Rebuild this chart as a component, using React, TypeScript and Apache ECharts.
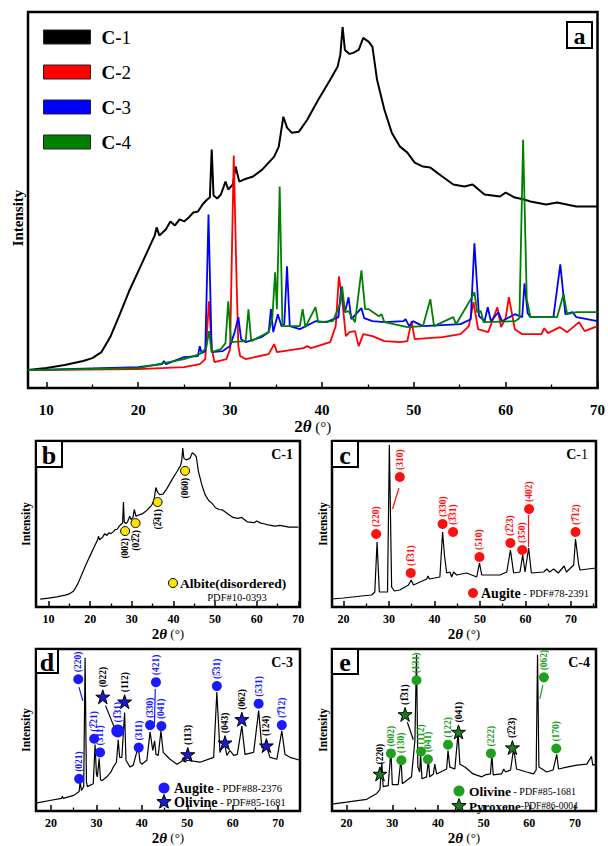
import React, { useEffect, useRef } from 'react';
import * as echarts from 'echarts';

const FONT = "'Liberation Serif', 'Times New Roman', 'DejaVu Serif', serif";

// ---------- Panel a: XRD patterns (2θ, intensity a.u.) ----------
const c1Pattern = [[8,18],[10,20],[12,23],[14,27],[15,30],[16,36],[17,52],[18,74],[19,97],[20,117],[21,137],[21.8,153],[22.0,161],[22.3,153],[23,159],[23.5,167],[24,163],[24.5,169],[25,167],[25.5,171],[26,176],[26.5,177],[27,184],[27.5,189],[27.8,191],[28.0,239],[28.2,193],[28.6,190],[29.0,194],[29.5,207],[29.8,199],[30.3,204],[30.6,222],[31.0,207],[31.5,209],[32.5,212],[33.5,219],[34.2,226],[34.8,232],[35.3,242],[35.8,272],[36.2,261],[36.7,256],[37.5,257],[38.4,269],[39.6,289],[40.9,309],[41.7,322],[42.0,334],[42.25,362],[42.5,339],[43.0,335],[43.4,336],[44.0,339],[44.5,351],[45.1,347],[45.5,342],[46.0,309],[46.8,279],[47.6,256],[48.5,242],[49.3,236],[50.1,226],[51.0,222],[51.8,221],[53.1,212],[54.3,204],[55.5,202],[56.4,204],[57.7,194],[59.4,192],[60.0,196],[61.0,191],[62.0,189],[62.7,187],[64.4,184],[65.6,186],[67.7,182],[70,182]];
const c2Pattern = [[8,18],[20,19],[25,21],[26.7,24],[27.3,29],[27.7,87],[28.0,40],[28.3,26],[29.6,29],[30.0,39],[30.4,233],[30.7,110],[30.9,42],[31.1,32],[31.7,29],[34.2,34],[34.8,44],[35.1,36],[38.0,40],[38.4,42],[38.8,40],[40.9,46],[41.5,62],[41.85,112],[42.2,89],[42.6,52],[43.0,56],[43.6,57],[44.0,42],[44.5,54],[45.5,52],[46.8,47],[48.5,46],[49.3,47],[49.75,67],[50.1,49],[53.1,51],[55.1,54],[56.0,62],[56.5,86],[57.0,59],[58.1,56],[59.1,81],[59.5,61],[60.0,70],[60.35,91],[61.0,59],[61.8,54],[63.9,54],[64.2,60],[64.6,55],[65.9,61],[66.7,56],[68.0,66],[68.6,57],[70,62]];
const c3Pattern = [[8,18],[20,21],[22.6,24],[22.8,27],[23.0,24],[25,31],[26.5,32],[26.7,42],[26.9,35],[27.3,37],[27.65,174],[28.0,36],[29.2,37],[30.0,42],[30.5,56],[30.9,71],[31.2,49],[31.7,46],[33.4,51],[34.2,56],[34.45,79],[34.7,56],[35.2,74],[35.6,62],[35.9,64],[36.2,122],[36.5,62],[37.6,59],[39.3,67],[40.5,66],[41.8,71],[42.1,101],[42.5,76],[42.9,91],[43.2,69],[44.3,80],[44.6,70],[45.5,67],[46.8,66],[48.9,67],[49.1,69],[49.5,62],[49.9,67],[51,62],[55.1,64],[56.2,69],[56.6,145],[57.1,72],[57.7,67],[58.05,81],[58.4,67],[59.2,76],[59.6,67],[61.0,74],[61.8,71],[62.05,105],[62.4,75],[62.7,71],[65.2,71],[65.95,124],[66.5,74],[67.3,76],[67.7,71],[70,67]];
const c4Pattern = [[8,18],[20,20],[25,29],[26.7,34],[27.4,40],[27.7,57],[28.0,36],[29.0,39],[29.5,45],[29.8,87],[30.1,46],[31.7,47],[32.0,79],[32.3,47],[34.2,56],[34.6,70],[34.9,116],[35.1,79],[35.4,202],[35.7,62],[36.7,62],[37.6,62],[37.9,79],[38.2,61],[39.3,81],[39.6,66],[41.2,67],[42.0,85],[42.2,102],[42.5,76],[42.9,77],[43.6,66],[44.3,118],[44.7,79],[45.1,79],[46.2,72],[46.5,74],[46.8,66],[49.3,61],[51.0,62],[51.8,89],[52.2,62],[54.3,71],[54.6,64],[56.2,89],[56.6,96],[56.9,76],[57.3,77],[57.6,66],[61.0,67],[61.5,70],[61.9,249],[62.3,89],[62.7,71],[65.6,71],[66.3,94],[66.7,74],[67.7,76],[69.4,76],[70,76]];

// ---------- Panel c / d / e patterns ----------
const cPattern = [[17.5,8],[20,9],[24,11],[26.2,12],[26.9,15],[27.4,65],[27.9,15],[29.7,15],[30.1,162],[30.6,20],[31.2,16],[32.4,17],[34.3,22],[34.9,27],[35.4,22],[38.3,28],[38.6,31],[38.9,28],[41.2,30],[41.8,75],[42.2,52],[42.7,34],[43.4,35],[43.8,30],[44.2,35],[44.9,32],[47.1,34],[49.3,30],[49.9,44],[50.4,32],[54.4,32],[55.9,35],[56.7,57],[57.4,34],[58.8,35],[59.4,52],[59.9,35],[60.7,59],[61.3,34],[64.0,35],[64.7,38],[65.3,35],[66.2,38],[67.2,34],[68.5,41],[69.0,35],[70.6,42],[71.0,68],[71.7,42],[72.0,37],[75.5,39]];
const dPattern = [[16.7,8],[20,11],[22.3,13],[22.5,15],[22.7,13],[25,16],[26.2,20],[26.4,30],[26.7,21],[27.2,25],[27.5,157],[27.8,30],[28.0,25],[29.3,28],[29.7,68],[30.0,38],[30.2,35],[30.6,54],[30.9,32],[31.2,31],[32.3,35],[33.2,40],[33.7,45],[34.4,50],[34.8,73],[35.1,55],[35.6,55],[36.2,101],[36.5,52],[37.4,45],[38.1,47],[39.2,66],[39.6,50],[40.0,48],[41.1,52],[41.8,81],[42.4,62],[42.8,72],[43.1,58],[43.6,57],[44.2,82],[44.7,60],[46.2,53],[47.7,48],[48.8,51],[49.1,55],[49.5,50],[49.9,52],[52.8,50],[55.8,55],[56.5,122],[57.2,60],[58.1,72],[58.7,57],[59.4,62],[60.2,57],[61.0,58],[62.0,87],[62.7,58],[64.6,60],[65.7,103],[66.4,65],[67.5,65],[68.2,55],[69.7,53],[70.8,82],[71.5,58],[72.6,55],[74.8,52]];
const ePattern = [[16.8,7],[20,9],[24.4,12],[26.6,18],[27.3,22],[27.7,50],[28.0,25],[29.1,26],[29.7,62],[30.0,27],[31.3,27],[31.9,54],[32.2,28],[34.2,35],[34.95,72],[35.3,160],[35.6,45],[36.0,40],[36.2,58],[36.5,33],[37.5,35],[37.9,52],[38.2,35],[39.0,38],[39.3,48],[39.7,38],[41.9,43],[42.2,62],[42.6,45],[43.7,43],[44.4,80],[44.8,48],[45.9,45],[47.7,38],[49.6,35],[50.3,37],[51.5,38],[51.8,58],[52.1,37],[53.9,38],[54.4,43],[54.8,40],[55.9,42],[56.5,62],[56.8,57],[57.2,43],[59.4,40],[60.9,38],[61.5,42],[61.8,160],[62.1,45],[63.8,40],[65.2,42],[66.0,58],[66.4,43],[68.2,45],[70.4,47],[72.6,48],[73.6,56],[73.9,47],[74.6,48]];

// ---------- Phase markers ----------
const B = '\u0305';
const bHkl = ['(002)', `(02${B}2)`, `(2${B}41)`, '(060)'];
const bPos = [[28.4,173],[30.9,191],[36.2,239],[42.8,310]];

const cHkl = ['(220)', '(310)', `(1${B}31)`, '(330)', `(3${B}31)`, '(510)', `(2${B}23)`, '(350)', '(402)', `(7${B}12)`];
const cPos = [[27.2,73],[32.4,130],[34.8,34],[41.8,83],[44.1,75],[49.9,50],[56.7,64],[59.3,57],[60.8,98],[71.0,75]];
const cArrows = [[[30.8,98],[32.2,119]],[[60.7,60],[60.7,92]]];

const dAugHkl = ['(021)', '(220)', `(2${B}21)`, `(3${B}11)`, `(1${B}31)`, '(311)', '(330)', '(421)', '(041)', `(5${B}31)`, '(531)', `(7${B}12)`];
const dAugPos = [[26.2,33],[26.0,135],[29.5,74],[30.8,60],[34.7,82],[39.3,65],[41.8,88],[43.1,132],[44.3,87],[56.5,128],[65.7,110],[70.8,88]];
const dAugArrows = [[[27.0,113],[26.15,127]],[[42.75,86],[42.95,125]]];
const dOlHkl = ['(022)', '(112)', '(113)', '(043)', '(062)', '(124)'];
const dOlPos = [[31.4,117],[36.2,112],[50.1,58],[58.3,70],[62.0,94],[67.4,67]];
const dOlArrows = [[[34.6,78],[32.0,108]]];

const eOlHkl = ['(002)', '(130)', '(131)', '(112)', '(041)', '(122)', '(222)', '(062)', '(170)'];
const eOlPos = [[29.7,59],[32.0,52],[35.3,134],[36.3,61],[37.8,53],[42.2,68],[51.6,59],[63.2,137],[65.9,64]];
const eOlArrows = [[[62.3,115],[62.95,129]]];
const ePyHkl = ['(220)', `(1${B}31)`, '(041)', `(2${B}23)`];
const ePyPos = [[27.3,38],[32.8,99],[44.5,81],[56.3,65]];
const ePyArrows = [[[34.6,73],[33.3,91]]];

// ---------- Axis ticks ----------
const ticksWide = [10, 20, 30, 40, 50, 60, 70];
const minorWide = [15, 25, 35, 45, 55, 65];
const ticksNarrow = [20, 30, 40, 50, 60, 70];
const minorNarrow = [25, 35, 45, 55, 65];
const minorNarrowC = [25, 35, 45, 55, 65, 75];

const STAR = 'path://M50 0 L61.8 35.4 L99 35.4 L69 57.3 L80.4 92.7 L50 70.8 L19.6 92.7 L31 57.3 L1 35.4 L38.2 35.4 Z';

function starPoints(cx: number, cy: number, r: number) {
  const pts: number[][] = [];
  for (let k = 0; k < 10; k++) {
    const a = -Math.PI / 2 + (k * Math.PI) / 5;
    const rr = k % 2 === 0 ? r : r * 0.42;
    pts.push([cx + rr * Math.cos(a), cy + rr * Math.sin(a)]);
  }
  return pts;
}

function majorX(gi: number, min: number, max: number, ticks: number[], fs: number, margin: number, nameGap: number, ns: number) {
  return {
    type: 'value', gridIndex: gi, min, max, position: 'bottom',
    axisLine: { show: false }, splitLine: { show: false },
    axisTick: { show: true, inside: true, length: 6, lineStyle: { color: '#000', width: 1.5 }, customValues: ticks },
    axisLabel: { show: true, customValues: ticks, margin, fontFamily: FONT, fontWeight: 'bold', fontSize: fs, color: '#000' },
    name: '{b|2}{i|θ}{n| (°)}', nameLocation: 'middle', nameGap,
    nameTextStyle: {
      color: '#000',
      rich: {
        b: { fontFamily: FONT, fontWeight: 'bold', fontSize: ns, color: '#000' },
        i: { fontFamily: FONT, fontStyle: 'italic', fontWeight: 'bold', fontSize: ns, color: '#000' },
        n: { fontFamily: FONT, fontSize: ns - 2, color: '#000' },
      },
    },
  };
}
function minorX(gi: number, min: number, max: number, ticks: number[]) {
  return {
    type: 'value', gridIndex: gi, min, max, position: 'bottom',
    axisLine: { show: false }, splitLine: { show: false }, axisLabel: { show: false },
    axisTick: { show: true, inside: true, length: 3.5, lineStyle: { color: '#000', width: 1.3 }, customValues: ticks },
  };
}
function yAx(gi: number, max: number, fs: number, gap: number, pad: number[]) {
  return {
    type: 'value', gridIndex: gi, min: 0, max,
    axisLine: { show: false }, axisTick: { show: false }, axisLabel: { show: false }, splitLine: { show: false },
    name: 'Intensity', nameLocation: 'middle', nameGap: gap,
    nameTextStyle: { fontFamily: FONT, fontWeight: 'bold', fontSize: fs, color: '#000', padding: pad },
  };
}
function lineS(name: string, data: number[][], idx: number, color: string, width: number) {
  return {
    type: 'line', name, xAxisIndex: idx, yAxisIndex: idx, data, showSymbol: false, symbol: 'none',
    lineStyle: { color, width }, itemStyle: { color }, silent: true,
  };
}
function markS(name: string, idx: number, pos: number[][], hkl: string[], symbol: string, size: any,
  fill: string, border: string, labelColor: string, below: boolean, arrows: number[][][], arrowColor: string) {
  return {
    type: 'scatter', name, xAxisIndex: idx, yAxisIndex: idx, symbol, symbolSize: size, z: 5, silent: true,
    itemStyle: { color: fill, borderColor: border, borderWidth: border === 'none' ? 0 : 1, opacity: 1 },
    data: pos.map((p, i) => ({ value: p, name: hkl[i] })),
    label: {
      show: true, formatter: (p: any) => p.name, position: below ? 'bottom' : 'top', distance: 2,
      rotate: 90, align: below ? 'right' : 'left', verticalAlign: 'middle',
      fontFamily: FONT, fontWeight: 'bold', fontSize: 9.5, color: labelColor,
    },
    markLine: arrows.length ? {
      silent: true, symbol: ['none', 'arrow'], symbolSize: [0, 7], animation: false,
      lineStyle: { color: arrowColor, width: 1.2, type: 'solid' }, label: { show: false },
      data: arrows.map((a) => [{ coord: a[0] }, { coord: a[1] }]),
    } : undefined,
  };
}

function letterBox(x: number, y: number, w: number, h: number, t: string, fs: number) {
  return {
    type: 'group', z: 100,
    children: [
      { type: 'rect', shape: { x, y, width: w, height: h }, style: { fill: '#fff', stroke: '#000', lineWidth: 2 } },
      { type: 'text', x: x + w / 2, y: y + h / 2 + 1, style: { text: t, font: `bold ${fs}px ${FONT}`, fill: '#000', align: 'center', verticalAlign: 'middle' } },
    ],
  };
}
function richText(x: number, y: number, t: string, bs: number, ss: number, align = 'left') {
  return {
    type: 'text', z: 100, x, y,
    style: {
      text: t, align, verticalAlign: 'middle', fill: '#000',
      rich: {
        b: { fontFamily: FONT, fontWeight: 'bold', fontSize: bs, fill: '#000' },
        s: { fontFamily: FONT, fontSize: ss, fill: '#000' },
      },
    },
  };
}

export default function App() {
  const ref = useRef<HTMLDivElement>(null);
  useEffect(() => {
    document.body.style.margin = '0';
    const chart = echarts.init(ref.current as HTMLDivElement, null, { renderer: 'svg', width: 608, height: 846 });
    const gridBase = { show: true, borderColor: '#000', borderWidth: 2.5, backgroundColor: 'transparent' };
    const option: any = {
      animation: false,
      backgroundColor: '#fff',
      grid: [
        { ...gridBase, left: 28, top: 12, width: 575, height: 376 },
        { ...gridBase, left: 36, top: 441, width: 264, height: 166 },
        { ...gridBase, left: 332, top: 441, width: 264, height: 166 },
        { ...gridBase, left: 36, top: 649, width: 264, height: 166 },
        { ...gridBase, left: 332, top: 649, width: 264, height: 166 },
      ],
      xAxis: [
        majorX(0, 8, 70, ticksWide, 15, 14, 30, 17),
        majorX(1, 7, 70.4, ticksWide, 12, 6, 19, 15),
        majorX(2, 17.5, 75.5, ticksNarrow, 12, 6, 19, 15),
        majorX(3, 16.7, 74.8, ticksNarrow, 12, 6, 19, 15),
        majorX(4, 16.8, 74.6, ticksNarrow, 12, 6, 19, 15),
        minorX(0, 8, 70, minorWide),
        minorX(1, 7, 70.4, minorWide),
        minorX(2, 17.5, 75.5, minorNarrowC),
        minorX(3, 16.7, 74.8, minorNarrow),
        minorX(4, 16.8, 74.6, minorNarrow),
      ],
      yAxis: [
        yAx(0, 377, 15, 3, [0, 36, 0, 0]),
        yAx(1, 378, 11.5, 4, [0, 0, 0, 0]),
        yAx(2, 166, 11.5, 3, [0, 0, 0, 0]),
        yAx(3, 166, 11.5, 4, [0, 0, 0, 0]),
        yAx(4, 166, 11.5, 3, [0, 0, 0, 0]),
      ],
      legend: {
        data: ['C-1', 'C-2', 'C-3', 'C-4'], orient: 'vertical', left: 43, top: 27, padding: 0,
        icon: 'rect', itemWidth: 47, itemHeight: 14, itemGap: 15,
        itemStyle: { borderColor: '#222', borderWidth: 1 },
        formatter: (n: string) => `{b|C-}{r|${n.slice(2)}}`,
        textStyle: {
          lineHeight: 20, padding: [0, 0, 0, 6],
          rich: {
            b: { fontFamily: FONT, fontWeight: 'bold', fontSize: 19, color: '#000' },
            r: { fontFamily: FONT, fontSize: 19, color: '#000' },
          },
        },
        selectedMode: false,
      },
      series: [
        lineS('C-1', c1Pattern, 0, '#000000', 2),
        lineS('C-2', c2Pattern, 0, '#ff0000', 1.8),
        lineS('C-3', c3Pattern, 0, '#0000ff', 1.8),
        lineS('C-4', c4Pattern, 0, '#008000', 1.8),
        lineS('C-1 (b)', c1Pattern, 1, '#000', 1.2),
        lineS('C-1 (c)', cPattern, 2, '#000', 1.2),
        lineS('C-3 (d)', dPattern, 3, '#000', 1.2),
        lineS('C-4 (e)', ePattern, 4, '#000', 1.2),
        markS('Albite', 1, bPos, bHkl, 'circle', 9, '#ffe400', '#000', '#000', true, [], '#000'),
        markS('Augite c', 2, cPos, cHkl, 'circle', 10, '#ff1010', 'none', '#ff1010', false, cArrows, '#ff1010'),
        markS('Augite d', 3, dAugPos, dAugHkl, 'circle', (v: any, p: any) => (p.dataIndex === 4 ? 13 : 10), '#1a1aff', 'none', '#1a1aff', false, dAugArrows, '#1a1aff'),
        markS('Olivine d', 3, dOlPos, dOlHkl, STAR, 14, '#1a1ad0', '#000', '#000', false, dOlArrows, '#000'),
        markS('Olivine e', 4, eOlPos, eOlHkl, 'circle', 10, '#1ea01e', 'none', '#1ea01e', false, eOlArrows, '#1ea01e'),
        markS('Pyroxene e', 4, ePyPos, ePyHkl, STAR, 14, '#1e7a1e', '#000', '#000', false, ePyArrows, '#000'),
      ],
      graphic: [
        letterBox(567, 22, 25, 26, 'a', 24),
        letterBox(36, 441, 26, 26, 'b', 26),
        letterBox(332, 441, 26, 26, 'c', 26),
        letterBox(36, 649, 22, 24, 'd', 26),
        letterBox(332, 649, 26, 25, 'e', 26),
        richText(293, 454, '{b|C-1}', 14, 14, 'right'),
        richText(588, 454, '{b|C}{s|-1}', 14, 14, 'right'),
        richText(293, 662, '{b|C-3}', 14, 14, 'right'),
        richText(590, 662, '{b|C-4}', 14, 14, 'right'),
        // panel b legend
        { type: 'circle', z: 100, shape: { cx: 173, cy: 583, r: 4.5 }, style: { fill: '#ffe400', stroke: '#000', lineWidth: 1 } },
        richText(180, 583, '{b|Albite(disordered)}', 13.5, 10.5),
        richText(237, 597, '{s|PDF#10-0393}', 13, 10.5, 'center'),
        // panel c legend
        { type: 'circle', z: 100, shape: { cx: 473, cy: 593, r: 5 }, style: { fill: '#ff1010' } },
        richText(481, 593, '{b|Augite}{s| - PDF#78-2391}', 14, 10.5),
        // panel d legend
        { type: 'circle', z: 100, shape: { cx: 164, cy: 788, r: 5.5 }, style: { fill: '#1a1aff' } },
        richText(174, 788, '{b|Augite}{s| - PDF#88-2376}', 14, 10.5),
        { type: 'polygon', z: 100, shape: { points: starPoints(164, 802, 7.5) }, style: { fill: '#1a1ad0', stroke: '#000', lineWidth: 1 } },
        richText(174, 802, '{b|Olivine}{s| - PDF#85-1681}', 14, 10.5),
        // panel e legend
        { type: 'circle', z: 100, shape: { cx: 459, cy: 791, r: 5.5 }, style: { fill: '#1ea01e' } },
        richText(469, 791, '{b|Olivine}{s| - PDF#85-1681}', 13.5, 10),
        { type: 'polygon', z: 100, shape: { points: starPoints(459, 806, 7.5) }, style: { fill: '#1e7a1e', stroke: '#000', lineWidth: 1 } },
        richText(469, 806, '{b|Pyroxene}{s|-PDF#86-0004}', 13, 9.5),
      ],
    };
    chart.setOption(option);
    return () => chart.dispose();
  }, []);
  return <div ref={ref} style={{ position: 'absolute', left: 0, top: 0, width: 608, height: 846, background: '#fff' }} />;
}
